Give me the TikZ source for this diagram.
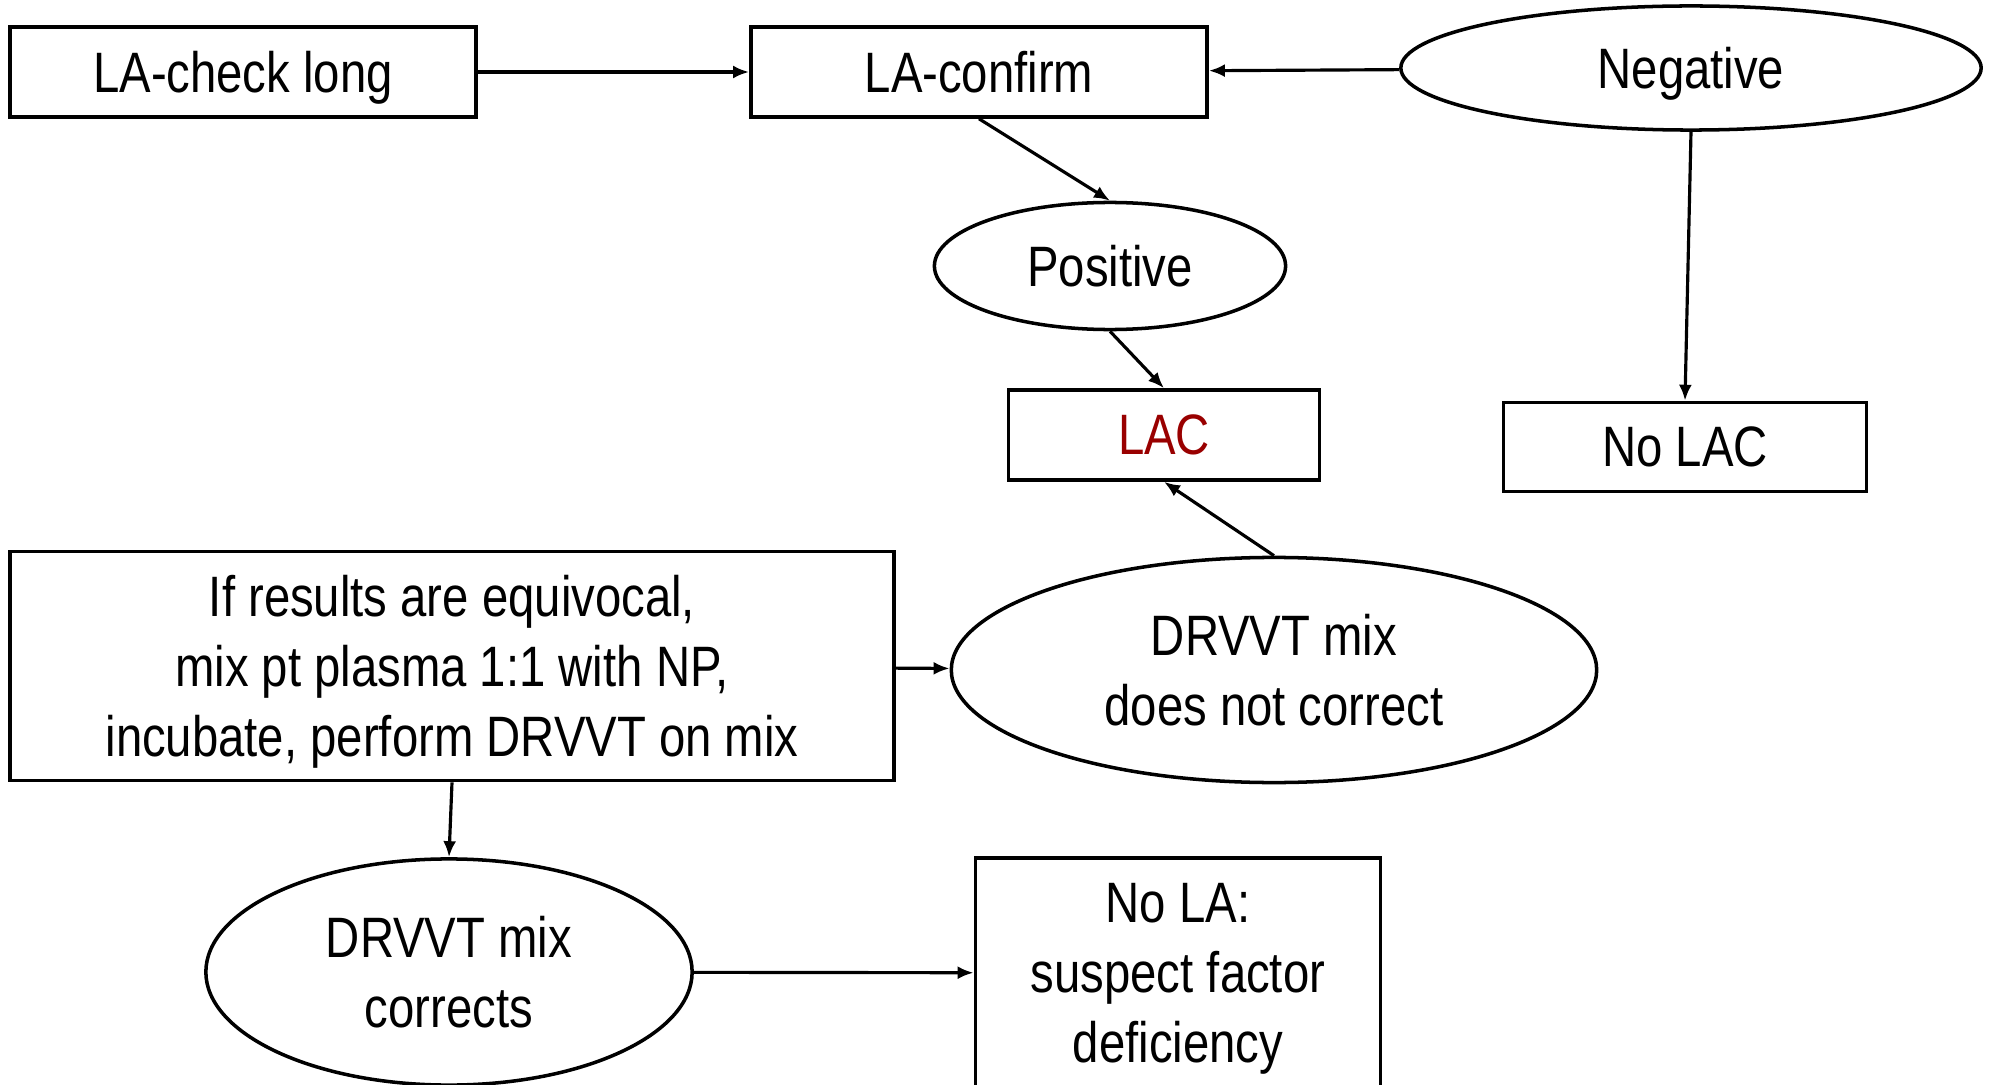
\documentclass[tikz,border=0pt]{standalone}
\usepackage{fontspec}
\setmainfont{Liberation Sans}[FakeStretch=0.83]
\usetikzlibrary{shapes.geometric,arrows.meta}
\definecolor{lacred}{RGB}{153,0,0}
\tikzset{
    flowbox/.style={draw,line width=1pt,rectangle,inner sep=0pt,align=center,text depth=0pt},
    flowoval/.style={draw,line width=1pt,ellipse,inner sep=0pt,align=center,text depth=0pt},
    flowarrow/.style={-{Latex[length=0.16cm,width=0.13cm]},line width=0.9pt}
}
\begin{document}
\begin{tikzpicture}[x=0.01cm,y=-0.01cm,font=\fontsize{16.2}{20}\selectfont]
        \useasboundingbox (0,0) rectangle (1990,1085);

        % top row
        \node[flowbox,minimum width=4.66cm,minimum height=0.9cm] (check) at (243,72) {LA-check long};
        \node[flowbox,minimum width=4.56cm,minimum height=0.9cm] (confirm) at (979,72) {LA-confirm};
        \node[flowoval,minimum width=5.8cm,minimum height=1.24cm] (neg) at (1691,68) {Negative};

        % results
        \node[flowoval,minimum width=3.51cm,minimum height=1.27cm] (pos) at (1110,266) {Positive};
        \node[flowbox,minimum width=3.11cm,minimum height=0.9cm,text=lacred] (lac) at (1164,435) {LAC};
        \node[flowbox,minimum width=3.63cm,minimum height=0.89cm] (nolac) at (1685,447) {No LAC};

        % mixing study
        \node[flowbox,minimum width=8.83cm,minimum height=2.29cm] (equiv) at (452,666)
            {If results are equivocal,\\mix pt plasma 1:1 with NP,\\incubate, perform DRVVT on mix};
        \node[flowoval,minimum width=6.45cm,minimum height=2.25cm] (notcorr) at (1274,670) {DRVVT mix\\does not correct};
        \node[flowoval,minimum width=4.86cm,minimum height=2.26cm] (corr) at (449,972) {DRVVT mix\\corrects};
        \node[flowbox,minimum width=4.05cm,minimum height=2.3cm] (nola) at (1178,973) {No LA:\\suspect factor\\deficiency};

        \draw[flowarrow] (check) -- (confirm);
        \draw[flowarrow] (neg) -- (confirm);
        \draw[flowarrow] (confirm.south) -- (pos.north);
        \draw[flowarrow] (pos.south) -- (lac.north);
        \draw[flowarrow] (neg.south) -- (nolac.north);
        \draw[flowarrow] (notcorr.north) -- (lac.south);
        \draw[flowarrow] (equiv) -- (notcorr);
        \draw[flowarrow] (equiv.south) -- (corr.north);
        \draw[flowarrow] (corr) -- (nola);
\end{tikzpicture}
\end{document}
